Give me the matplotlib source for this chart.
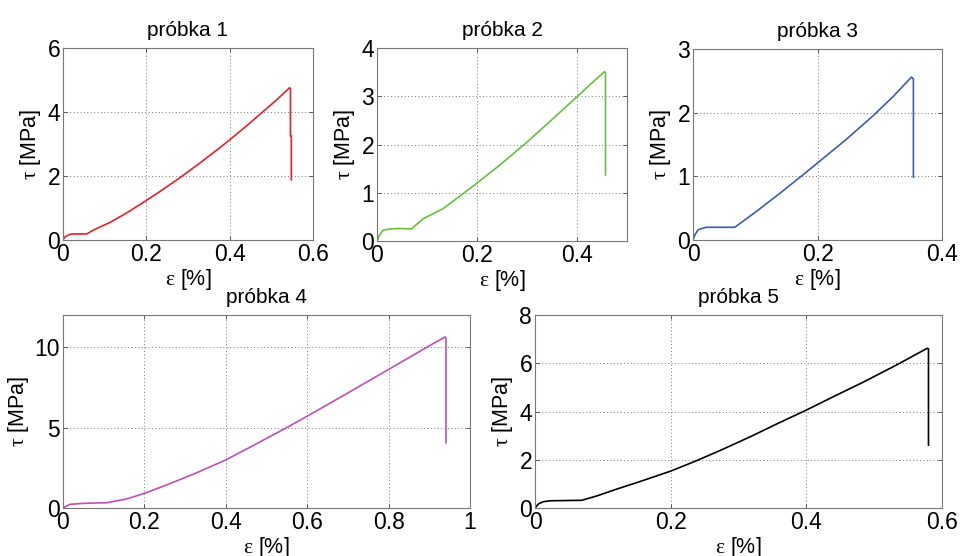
import numpy as np
import matplotlib.pyplot as plt

plt.rcParams['font.family'] = ['Liberation Sans', 'DejaVu Sans']
plt.rcParams['mathtext.fontset'] = 'custom'
plt.rcParams['mathtext.rm'] = 'Liberation Serif'

# odksztalcenie [%] i naprezenie [MPa]
eps1 = [0, 0.005, 0.017, 0.025, 0.057, 0.073, 0.113, 0.152, 0.198, 0.232, 0.280,
        0.328, 0.376, 0.400, 0.440, 0.480, 0.512, 0.544, 0.546, 0.546, 0.548, 0.548]
tau1 = [0, 0.10, 0.18, 0.19, 0.19, 0.31, 0.55, 0.84, 1.22, 1.51, 1.94,
        2.40, 2.88, 3.13, 3.56, 4.01, 4.37, 4.76, 4.72, 3.25, 3.25, 1.88]

eps2 = [0, 0.005, 0.012, 0.025, 0.045, 0.069, 0.092, 0.132, 0.172, 0.200, 0.245,
        0.299, 0.345, 0.365, 0.400, 0.425, 0.455, 0.457, 0.457]
tau2 = [0, 0.12, 0.22, 0.25, 0.26, 0.25, 0.46, 0.67, 0.98, 1.20, 1.57,
        2.04, 2.47, 2.66, 2.99, 3.23, 3.51, 3.49, 1.37]

eps3 = [0, 0.003, 0.008, 0.021, 0.043, 0.067, 0.102, 0.139, 0.171, 0.200, 0.246,
        0.289, 0.321, 0.351, 0.354, 0.354]
tau3 = [0, 0.08, 0.16, 0.20, 0.20, 0.20, 0.45, 0.73, 0.98, 1.21, 1.58,
        1.95, 2.25, 2.56, 2.53, 0.99]

eps4 = [0, 0.017, 0.050, 0.107, 0.156, 0.200, 0.254, 0.320, 0.399, 0.467, 0.549,
        0.600, 0.672, 0.729, 0.800, 0.852, 0.901, 0.939, 0.941, 0.941]
tau4 = [0, 0.23, 0.29, 0.33, 0.56, 0.91, 1.43, 2.10, 2.98, 3.88, 4.99,
        5.71, 6.75, 7.58, 8.62, 9.38, 10.10, 10.64, 10.55, 4.06]

eps5 = [0, 0.005, 0.012, 0.022, 0.069, 0.091, 0.120, 0.155, 0.200, 0.238, 0.278,
        0.317, 0.356, 0.400, 0.435, 0.484, 0.533, 0.578, 0.580, 0.580]
tau5 = [0, 0.17, 0.26, 0.30, 0.32, 0.50, 0.78, 1.10, 1.53, 1.96, 2.45,
        2.95, 3.48, 4.06, 4.55, 5.22, 5.93, 6.62, 6.60, 2.61]

titles = ['próbka 1', 'próbka 2', 'próbka 3', 'próbka 4', 'próbka 5']
colors = ['#e8202a', '#66c03c', '#3a5cb2', '#c04fb4', '#000000']
xlims = [0.6, 0.5, 0.4, 1.0, 0.6]
ylims = [6, 4, 3, 12, 8]
xticks = [[0, 0.2, 0.4, 0.6], [0, 0.2, 0.4], [0, 0.2, 0.4],
          [0, 0.2, 0.4, 0.6, 0.8, 1], [0, 0.2, 0.4, 0.6]]
yticks = [[0, 2, 4, 6], [0, 1, 2, 3, 4], [0, 1, 2, 3], [0, 5, 10], [0, 2, 4, 6, 8]]

data = [(eps1, tau1), (eps2, tau2), (eps3, tau3), (eps4, tau4), (eps5, tau5)]

fig = plt.figure(figsize=(9.6, 5.56), dpi=100)
pos = [[0.0656, 0.5683, 0.2604, 0.3453],
       [0.3927, 0.5665, 0.2604, 0.3471],
       [0.7219, 0.5683, 0.2594, 0.3435],
       [0.0656, 0.0863, 0.4240, 0.3471],
       [0.5573, 0.0863, 0.4240, 0.3471]]

for i in range(5):
    ax = fig.add_axes(pos[i])
    x, y = data[i]
    ax.plot(x, y, color=colors[i], lw=1.2)
    ax.set_xlim(0, xlims[i])
    ax.set_ylim(0, ylims[i])
    ax.set_xticks(xticks[i])
    ax.set_yticks(yticks[i])
    ax.set_xticklabels([('%g' % t) for t in xticks[i]])
    ax.grid(True, color='#777777', linestyle=(0, (1, 2.5)), linewidth=0.7)
    ax.tick_params(direction='in', length=3, width=0.7, color='#555555',
                   top=True, right=True, labelsize=16.5, pad=2)
    for s in ax.spines.values():
        s.set_color('#777777')
        s.set_linewidth(0.8)
    ax.set_title(titles[i], fontsize=15, pad=9)
    ax.set_xlabel(r'$\mathrm{ε}$ [%]', fontsize=15.5, labelpad=1)
    ax.set_ylabel(r'$\mathrm{τ}$ [MPa]', fontsize=15.5, labelpad=3)

plt.savefig('out.png', dpi=100)
